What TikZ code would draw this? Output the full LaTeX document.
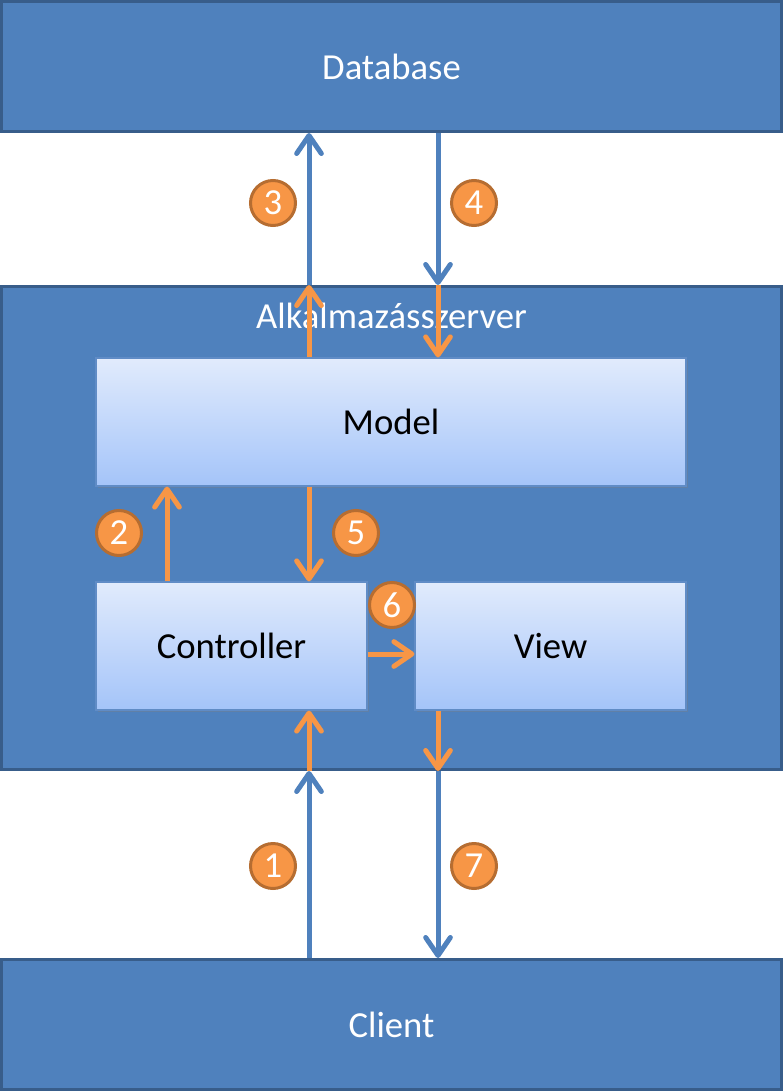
\documentclass[tikz,border=0pt]{standalone}
\usepackage{fontspec}
\setmainfont{Carlito}
\usetikzlibrary{arrows.meta,shadows}

\definecolor{tierFill}{RGB}{79,129,189}
\definecolor{tierEdge}{RGB}{56,93,138}
\definecolor{partTop}{RGB}{225,235,252}
\definecolor{partBot}{RGB}{164,196,249}
\definecolor{partEdge}{RGB}{96,140,198}
\definecolor{stepFill}{RGB}{247,150,70}
\definecolor{stepEdge}{RGB}{182,109,49}

\tikzset{
  bigtext/.style={font=\fontsize{27.5}{33}\selectfont},
  tierbox/.style={bigtext, draw=tierEdge, fill=tierFill, line width=2.25pt, inner sep=0pt, text=white},
  partbox/.style={bigtext, draw=partEdge, line width=0.9pt, top color=partTop, bottom color=partBot,
    inner sep=0pt, text=black, drop shadow={opacity=0.35, shadow xshift=1.5pt, shadow yshift=-1.5pt}},
  stepdot/.style={bigtext, circle, draw=stepEdge, fill=stepFill, line width=2.25pt,
    minimum size=33.75pt, inner sep=0pt, text=white},
  bluearrow/.style={draw=tierFill, line width=3.75pt, -{Straight Barb[length=13.5pt,width=18.5pt,round]}},
  orangearrow/.style={draw=stepFill, line width=3.75pt, -{Straight Barb[length=13.5pt,width=18.5pt,round]}}
}

\begin{document}
\begin{tikzpicture}[x=0.75pt,y=0.75pt,yscale=-1,xscale=1]
\useasboundingbox (0,0) rectangle (783,1091);

% tiers
\node[tierbox, minimum width=585pt, minimum height=97.5pt] (db) at (391.5,66.5) {Database};
\node[tierbox, minimum width=585pt, minimum height=362.25pt] (app) at (391.5,528) {};
\node[tierbox, minimum width=585pt, minimum height=97.5pt] (client) at (391.5,1024.5) {Client};
\node[bigtext, text=white] (apptitle) at ([yshift=23.25pt]app.north) {Alkalmazásszerver};

% parts of the server
\node[partbox, minimum width=442.5pt, minimum height=96pt] (model) at (391,422) {Model};
\node[partbox, minimum width=203.25pt, minimum height=96pt] (ctrl) at (231.5,646) {Controller};
\node[partbox, minimum width=203.25pt, minimum height=96pt] (view) at (550.5,646) {View};

% columns of the arrows
\coordinate (lcol) at (309,0);
\coordinate (rcol) at (438,0);
\coordinate (ccol) at (167,0);

% blue arrows between tiers
\draw[bluearrow] (client.north -| lcol) -- (app.south -| lcol);
\draw[bluearrow] (app.north -| lcol) -- (db.south -| lcol);
\draw[bluearrow] (db.south -| rcol) -- (app.north -| rcol);
\draw[bluearrow] (app.south -| rcol) -- (client.north -| rcol);

% orange arrows inside the server
\draw[orangearrow] (app.south -| lcol) -- (ctrl.south -| lcol);
\draw[orangearrow] (ctrl.north -| ccol) -- (model.south -| ccol);
\draw[orangearrow] (model.north -| lcol) -- (app.north -| lcol);
\draw[orangearrow] (app.north -| rcol) -- (model.north -| rcol);
\draw[orangearrow] (model.south -| lcol) -- (ctrl.north -| lcol);
\draw[orangearrow] ([yshift=6pt]ctrl.east) -- ([yshift=6pt]view.west);
\draw[orangearrow] (view.south -| rcol) -- (app.south -| rcol);

% step numbers
\node[stepdot] (n1) at (273,866) {1};
\node[stepdot] (n2) at (119,533) {2};
\node[stepdot] (n3) at (273,203) {3};
\node[stepdot] (n4) at (474,203) {4};
\node[stepdot] (n5) at (356,533) {5};
\node[stepdot] (n6) at (392,605) {6};
\node[stepdot] (n7) at (474,866) {7};

\end{tikzpicture}
\end{document}
